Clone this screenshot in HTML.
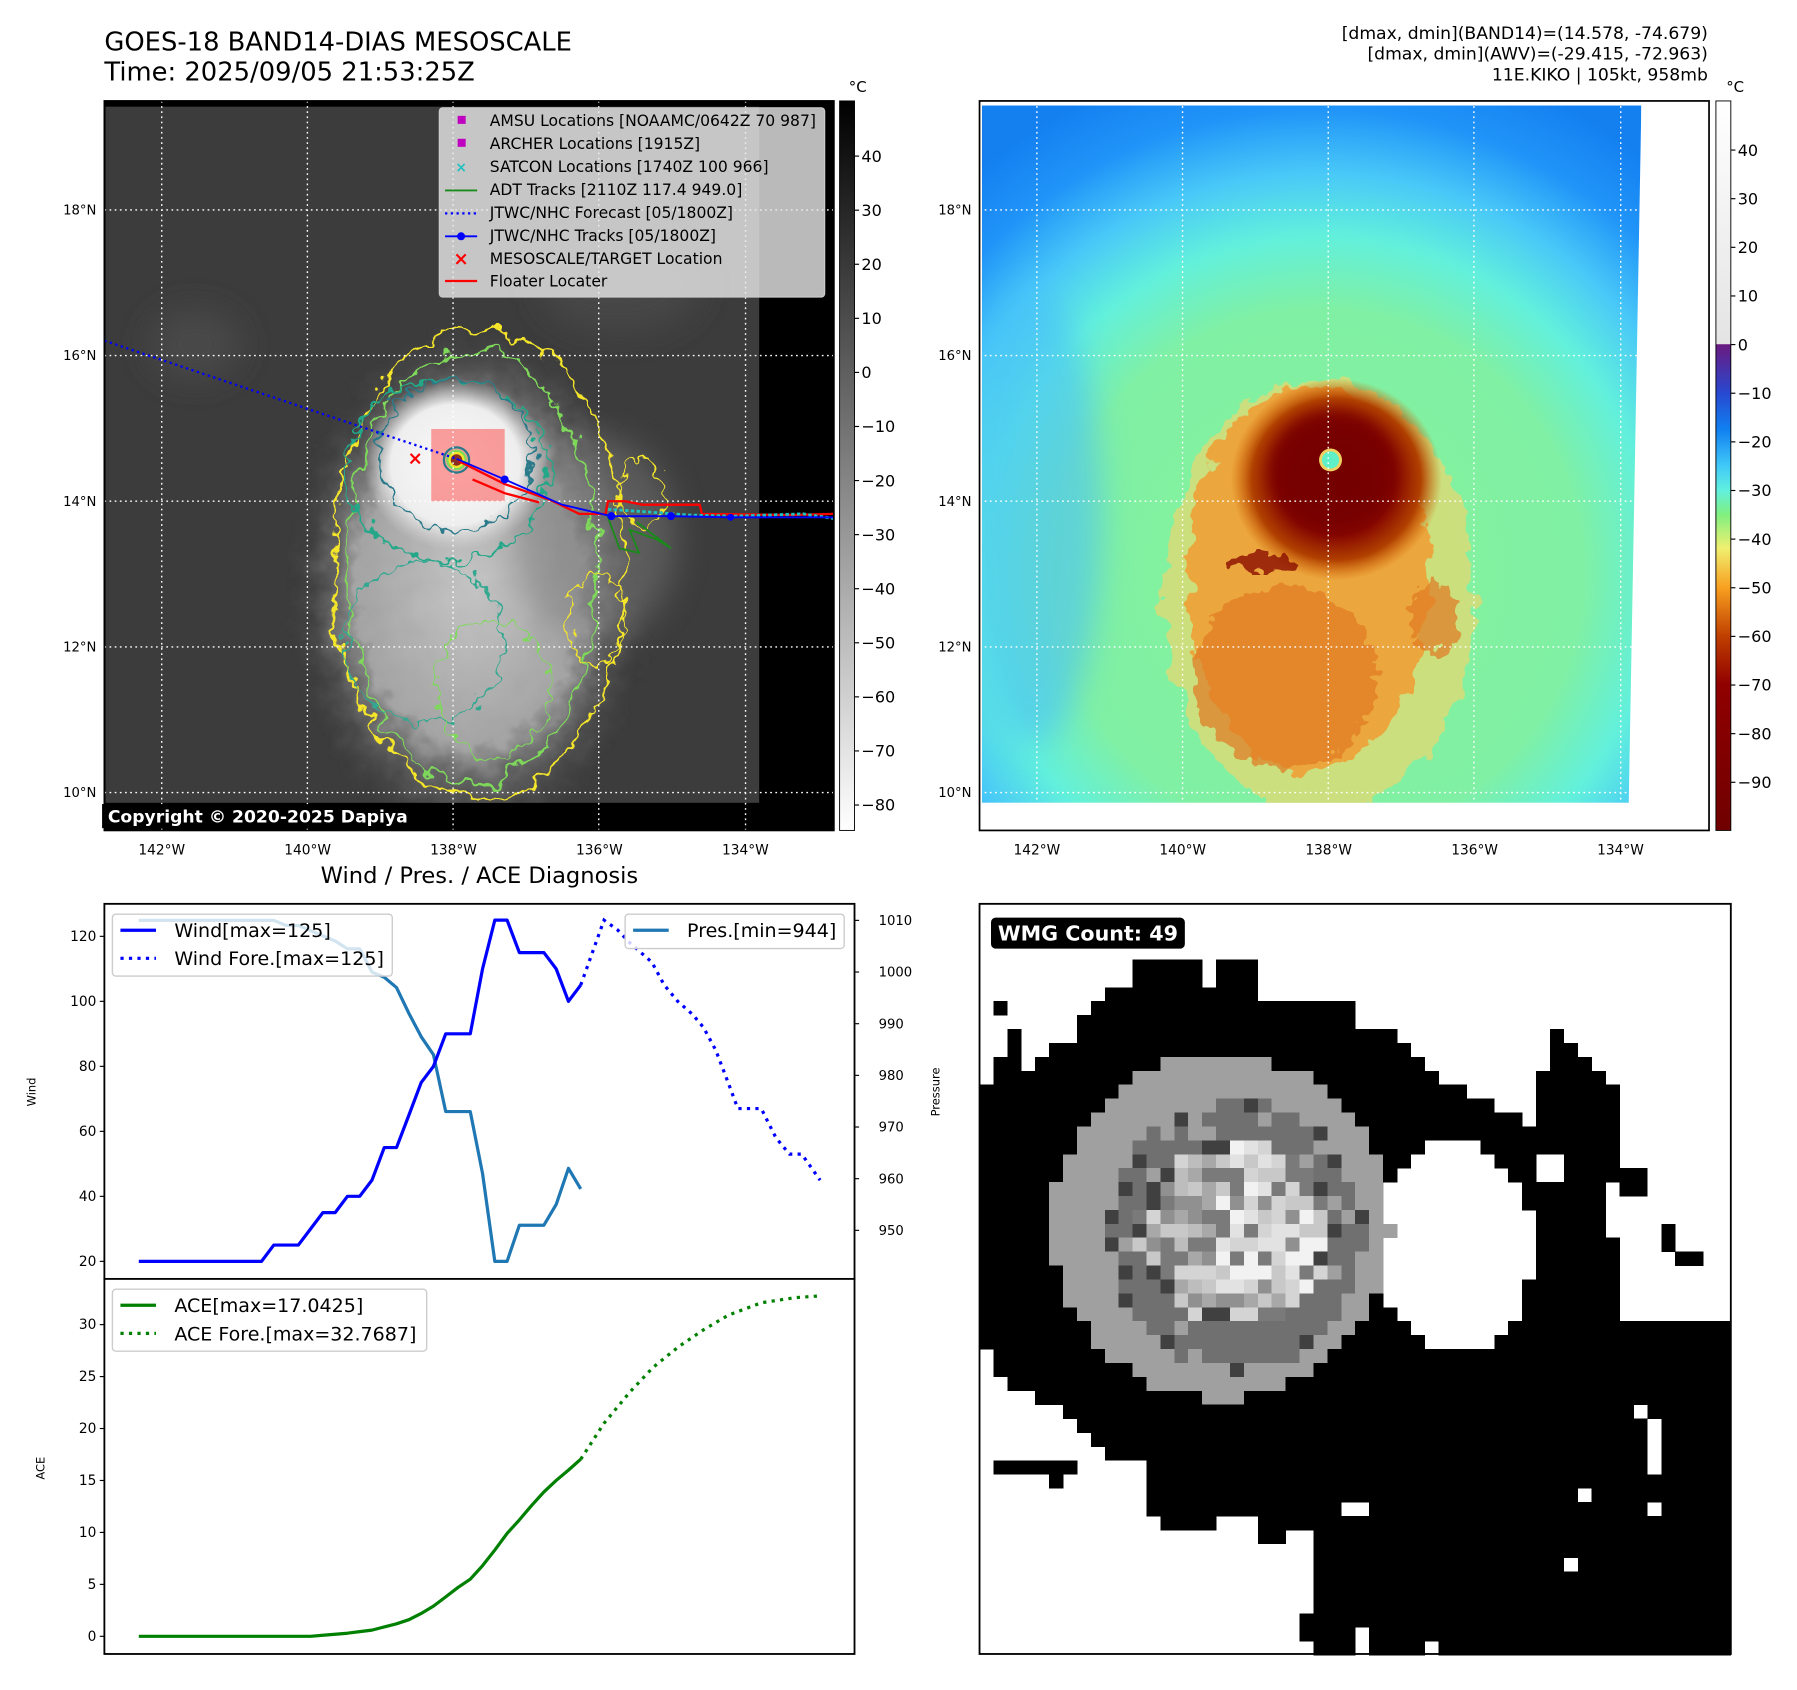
<!DOCTYPE html>
<html><head><meta charset="utf-8"><style>
html,body{margin:0;padding:0;background:#fff;}
svg{display:block;font-family:"DejaVu Sans","Liberation Sans",sans-serif;}
</style></head><body>
<svg id="root" width="1797" height="1690" viewBox="0 0 1566.7 1473.4" xmlns="http://www.w3.org/2000/svg">
<defs>
<filter id="rough" x="-20%" y="-20%" width="140%" height="140%"><feTurbulence type="fractalNoise" baseFrequency="0.05" numOctaves="3" seed="4"/><feDisplacementMap in="SourceGraphic" scale="26" xChannelSelector="R" yChannelSelector="G"/></filter>
<filter id="rough2" x="-20%" y="-20%" width="140%" height="140%"><feTurbulence type="fractalNoise" baseFrequency="0.09" numOctaves="2" seed="9"/><feDisplacementMap in="SourceGraphic" scale="22" xChannelSelector="R" yChannelSelector="G"/></filter>
<filter id="blur6" x="-50%" y="-50%" width="200%" height="200%"><feGaussianBlur stdDeviation="6"/></filter>
<filter id="blur14" x="-50%" y="-50%" width="200%" height="200%"><feGaussianBlur stdDeviation="14"/></filter>
<radialGradient id="shieldG" cx="0.5" cy="0.5" r="0.5"><stop offset="0" stop-color="#c4c4c4"/><stop offset="0.6" stop-color="#a4a4a4"/><stop offset="1" stop-color="#3c3c3c" stop-opacity="0"/></radialGradient>
<radialGradient id="cdoG" cx="0.5" cy="0.5" r="0.5"><stop offset="0" stop-color="#fafafa"/><stop offset="0.7" stop-color="#eeeeee"/><stop offset="1" stop-color="#d8d8d8" stop-opacity="0"/></radialGradient>
<radialGradient id="rbase" gradientUnits="userSpaceOnUse" cx="1150" cy="500" r="460"><stop offset="0" stop-color="#86f29a"/><stop offset="0.5" stop-color="#80f0a4"/><stop offset="0.64" stop-color="#62f0dc"/><stop offset="0.76" stop-color="#48c8f8"/><stop offset="0.88" stop-color="#2094f8"/><stop offset="1" stop-color="#1480f0"/></radialGradient>
<radialGradient id="coreG" cx="0.5" cy="0.5" r="0.5"><stop offset="0" stop-color="#6a0000"/><stop offset="0.55" stop-color="#860600"/><stop offset="0.8" stop-color="#b04000"/><stop offset="1" stop-color="#d06000" stop-opacity="0"/></radialGradient>
<linearGradient id="cb1" x1="0" y1="0" x2="0" y2="1"><stop offset="0" stop-color="#000"/><stop offset="1" stop-color="#fff"/></linearGradient>
<linearGradient id="cb2" x1="0" y1="0" x2="0" y2="1">
<stop offset="0" stop-color="#ffffff"/><stop offset="0.333" stop-color="#e4e4e4"/>
<stop offset="0.334" stop-color="#6a1a80"/><stop offset="0.4" stop-color="#2848d0"/><stop offset="0.45" stop-color="#1080f0"/><stop offset="0.5" stop-color="#40c8f8"/><stop offset="0.533" stop-color="#60f0e0"/><stop offset="0.567" stop-color="#80f080"/><stop offset="0.613" stop-color="#f0f070"/><stop offset="0.667" stop-color="#f8a020"/><stop offset="0.733" stop-color="#c04000"/><stop offset="0.8" stop-color="#900000"/><stop offset="1" stop-color="#700000"/></linearGradient>
<clipPath id="clipL"><rect x="91" y="88" width="636" height="636"/></clipPath>
<clipPath id="clipR"><polygon points="856,92 1431,92 1420,700 856,700"/></clipPath>
</defs>

<text x="91" y="44" font-size="22.5">GOES-18 BAND14-DIAS MESOSCALE</text>
<text x="91" y="70" font-size="22.5">Time: 2025/09/05 21:53:25Z</text>
<text x="1489" y="34" font-size="15" text-anchor="end">[dmax, dmin](BAND14)=(14.578, -74.679)</text>
<text x="1489" y="52" font-size="15" text-anchor="end">[dmax, dmin](AWV)=(-29.415, -72.963)</text>
<text x="1489" y="70" font-size="15" text-anchor="end">11E.KIKO | 105kt, 958mb</text>

<g>
<rect x="91" y="88" width="636" height="636" fill="#000"/>
<g clip-path="url(#clipL)">
<rect x="92" y="93" width="570" height="607" fill="#3c3c3c"/>
<ellipse cx="170" cy="300" rx="40" ry="30" fill="#4a4a4a" filter="url(#blur14)"/>
<ellipse cx="540" cy="250" rx="70" ry="40" fill="#474747" filter="url(#blur14)"/>
<ellipse cx="410" cy="510" rx="160" ry="230" fill="url(#shieldG)" filter="url(#rough)"/>
<ellipse cx="520" cy="470" rx="70" ry="90" fill="#7a7a7a" opacity="0.5" filter="url(#blur14)"/>
<ellipse cx="397" cy="405" rx="80" ry="75" fill="url(#cdoG)"/>
<ellipse cx="418" cy="492" rx="128" ry="205" fill="none" stroke="#f5e62a" stroke-width="2" filter="url(#rough)"/>
<ellipse cx="412" cy="495" rx="108" ry="190" fill="none" stroke="#7ed95a" stroke-width="2" filter="url(#rough)"/>
<ellipse cx="390" cy="410" rx="88" ry="80" fill="none" stroke="#22a888" stroke-width="2" filter="url(#rough2)"/>
<ellipse cx="397" cy="396" rx="67" ry="66" fill="none" stroke="#2a7a8a" stroke-width="2" filter="url(#rough2)"/>
<ellipse cx="370" cy="560" rx="70" ry="70" fill="none" stroke="#30a890" stroke-width="1.6" filter="url(#rough2)"/>
<ellipse cx="430" cy="600" rx="50" ry="60" fill="none" stroke="#7ed95a" stroke-width="1.6" filter="url(#rough2)"/>
<ellipse cx="520" cy="540" rx="25" ry="40" fill="none" stroke="#f5e62a" stroke-width="1.6" filter="url(#rough2)"/>
<ellipse cx="560" cy="430" rx="20" ry="30" fill="none" stroke="#f5e62a" stroke-width="1.6" filter="url(#rough2)"/>
<rect x="662" y="88" width="70" height="640" fill="#000"/>
<rect x="91" y="700" width="640" height="30" fill="#000"/>
<rect x="376" y="374" width="64" height="63" fill="#ff3030" opacity="0.45"/>
<circle cx="398" cy="401" r="11" fill="none" stroke="#2a7a8a" stroke-width="2"/>
<circle cx="398" cy="401" r="8" fill="#f5e62a" stroke="#7ed95a" stroke-width="2"/>
<circle cx="398" cy="401" r="5" fill="#8a3020"/>
</g>
<g stroke="#fff" stroke-width="1.2" stroke-dasharray="1.5 3" fill="none">
<line x1="141" y1="88" x2="141" y2="724"/><line x1="268" y1="88" x2="268" y2="724"/><line x1="395" y1="88" x2="395" y2="724"/><line x1="522" y1="88" x2="522" y2="724"/><line x1="650" y1="88" x2="650" y2="724"/>
<line x1="91" y1="183" x2="727" y2="183"/><line x1="91" y1="310" x2="727" y2="310"/><line x1="91" y1="437" x2="727" y2="437"/><line x1="91" y1="564" x2="727" y2="564"/><line x1="91" y1="691" x2="727" y2="691"/>
</g>
<g clip-path="url(#clipL)">
<polyline points="91,297 398,400" fill="none" stroke="#0000ff" stroke-width="2" stroke-dasharray="2 3"/>
<polyline points="529,448 540,478 557,482 549,462 572,470 585,478 555,455" fill="none" stroke="#1a8a1a" stroke-width="1.6"/>
<polyline points="400,402 440,422 480,436 505,448 528,448 530,437 545,437 560,440 610,440 612,448 690,449 727,448" fill="none" stroke="#ff0000" stroke-width="2"/>
<polyline points="412,418 440,430 470,438" fill="none" stroke="#ff0000" stroke-width="2"/>
<polyline points="530,444 560,446 600,449 640,450 700,448 727,452" fill="none" stroke="#20c0c0" stroke-width="2.5" stroke-dasharray="3 2"/>
<polyline points="398,400 440,418 490,440 533,450 585,450 637,451 727,451" fill="none" stroke="#0000ff" stroke-width="1.6"/>
<circle cx="440" cy="418" r="3.5" fill="#0000ff"/><circle cx="533" cy="450" r="3.5" fill="#0000ff"/><circle cx="585" cy="450" r="3.5" fill="#0000ff"/><circle cx="637" cy="451" r="3" fill="#0000ff"/>
<text x="362" y="405" font-size="16" fill="#ff0000" text-anchor="middle" font-weight="bold">×</text>
</g>
<rect x="89" y="701" width="273" height="21" fill="#000"/>
<text x="94" y="717" font-size="15" font-weight="bold" fill="#fff">Copyright © 2020-2025 Dapiya</text>
<rect x="91" y="88" width="636" height="636" fill="none" stroke="#000" stroke-width="1.5"/>
<g>
<rect x="383" y="94" width="336" height="165" rx="3" fill="#e8e8e8" fill-opacity="0.8" stroke="#ccc"/>
<rect x="399" y="101" width="7" height="7" fill="#c000c0"/>
<rect x="399" y="121" width="7" height="7" fill="#c000c0"/>
<text x="402" y="150" font-size="12" fill="#20c0c0" text-anchor="middle" font-weight="bold">×</text>
<line x1="388" y1="166" x2="416" y2="166" stroke="#1a8a1a" stroke-width="1.6"/>
<line x1="388" y1="186" x2="416" y2="186" stroke="#0000ff" stroke-width="2" stroke-dasharray="2 3"/>
<line x1="388" y1="206" x2="416" y2="206" stroke="#0000ff" stroke-width="1.6"/><circle cx="402" cy="206" r="3.5" fill="#0000ff"/>
<text x="402" y="231" font-size="16" fill="#ff0000" text-anchor="middle" font-weight="bold">×</text>
<line x1="388" y1="245" x2="416" y2="245" stroke="#ff0000" stroke-width="2"/>
<g font-size="13.6" fill="#000">
<text x="427" y="110">AMSU Locations [NOAAMC/0642Z 70 987]</text>
<text x="427" y="130">ARCHER Locations [1915Z]</text>
<text x="427" y="150">SATCON Locations [1740Z 100 966]</text>
<text x="427" y="170">ADT Tracks [2110Z 117.4 949.0]</text>
<text x="427" y="190">JTWC/NHC Forecast [05/1800Z]</text>
<text x="427" y="210">JTWC/NHC Tracks [05/1800Z]</text>
<text x="427" y="230">MESOSCALE/TARGET Location</text>
<text x="427" y="250">Floater Locater</text>
</g></g>
</g>
<g>
<rect x="732" y="88" width="13" height="636" fill="url(#cb1)" stroke="#000" stroke-width="0.8"/>
<text x="740" y="80" font-size="13">°C</text>
<g id="cb1ticks" font-size="14"></g>
</g>

<g>
<rect x="854" y="88" width="636" height="636" fill="#fff"/>
<g clip-path="url(#clipR)">
<rect x="856" y="92" width="575" height="608" fill="url(#rbase)"/>
<ellipse cx="900" cy="450" rx="60" ry="200" fill="#48c0f8" opacity="0.6" filter="url(#blur14)"/>
<ellipse cx="1150" cy="520" rx="135" ry="190" fill="#ecd870" opacity="0.7" filter="url(#rough)"/>
<ellipse cx="1140" cy="505" rx="105" ry="170" fill="#f0a038" opacity="0.9" filter="url(#rough)"/>
<ellipse cx="1120" cy="590" rx="80" ry="80" fill="#e07a20" opacity="0.7" filter="url(#rough2)"/>
<ellipse cx="1250" cy="540" rx="22" ry="30" fill="#e07a20" opacity="0.7" filter="url(#rough2)"/>
<ellipse cx="1165" cy="418" rx="92" ry="88" fill="url(#coreG)"/>
<ellipse cx="1162" cy="410" rx="55" ry="52" fill="#760000" opacity="0.8" filter="url(#blur6)"/>
<ellipse cx="1100" cy="490" rx="30" ry="8" fill="#8a1000" opacity="0.8" filter="url(#rough2)"/>
<circle cx="1160" cy="401" r="10" fill="#f0d060"/>
<circle cx="1160" cy="401" r="7.5" fill="#60f0c8"/>
</g>
<g stroke="#fff" stroke-width="1.2" stroke-dasharray="1.5 3" fill="none">
<line x1="904" y1="88" x2="904" y2="724"/><line x1="1031" y1="88" x2="1031" y2="724"/><line x1="1158" y1="88" x2="1158" y2="724"/><line x1="1285" y1="88" x2="1285" y2="724"/><line x1="1413" y1="88" x2="1413" y2="724"/>
<line x1="854" y1="183" x2="1490" y2="183"/><line x1="854" y1="310" x2="1490" y2="310"/><line x1="854" y1="437" x2="1490" y2="437"/><line x1="854" y1="564" x2="1490" y2="564"/><line x1="854" y1="691" x2="1490" y2="691"/>
</g>
<rect x="854" y="88" width="636" height="636" fill="none" stroke="#000" stroke-width="1.5"/>
</g>
<g>
<rect x="1496" y="88" width="13" height="636" fill="url(#cb2)" stroke="#000" stroke-width="0.8"/>
<text x="1505" y="80" font-size="13">°C</text>
<g id="cb2ticks" font-size="14"></g>
</g>
<g id="mapAxisLabels"></g>

<text x="418" y="770" font-size="19.7" text-anchor="middle">Wind / Pres. / ACE Diagnosis</text>
<g id="tsChart"></g>

<g id="wmg"></g>
</svg>
<script>
const obsIndex = [0,1,2,3,4,5,6,7,8,9,10,11,12,13,14,15,16,17,18,19,20,21,22,23,24,25,26,27,28,29,30,31,32,33,34,35,36];
const windObs = [20,20,20,20,20,20,20,20,20,20,20,25,25,25,30,35,35,40,40,45,55,55,65,75,80,90,90,90,110,125,125,115,115,115,110,100,105];
const presObs = [1010,1010,1010,1010,1010,1010,1010,1010,1010,1010,1010,1010,1009,1009,1008,1007,1006,1004.5,1004.5,1000,999,997,992,987.5,984,973,973,973,961,944,944,951,951,951,955,962,958];
const aceObs = [0,0,0,0,0,0,0,0,0,0,0,0,0,0,0,0.1,0.2,0.3,0.45,0.6,0.9,1.2,1.6,2.2,2.9,3.8,4.7,5.5,6.8,8.3,9.9,11.2,12.6,13.9,15.0,16.0,17.04];
const windForeIndex = [36,37.9,39,40,40.9,41.8,42.8,43.9,45.1,46,47,48,48.8,50.7,51.9,53,54,55.5];
const windFore = [105,125,122,118,115,112,105,100,96,92,85,75,67,67,58,53,53,45];
const aceForeIndex = [36,37.9,40,41.9,44,46,48,50.7,53.5,55.5];
const aceFore = [17.04,20.5,23.5,25.9,27.9,29.5,30.9,32.1,32.6,32.77];
const windTicks = [20,40,60,80,100,120];
const presTicks = [950,960,970,980,990,1000,1010];
const aceTicks = [0,5,10,15,20,25,30];
const cb1Ticks = [40,30,20,10,0,-10,-20,-30,-40,-50,-60,-70,-80];
const cb2Ticks = [40,30,20,10,0,-10,-20,-30,-40,-50,-60,-70,-80,-90];
const lonTicks = [-142,-140,-138,-136,-134];
const latTicks = [18,16,14,12,10];

const NS = "http://www.w3.org/2000/svg";
function mk(tag, attrs, parent){const e=document.createElementNS(NS,tag);for(const k in attrs)e.setAttribute(k,attrs[k]);if(parent)parent.appendChild(e);return e;}

const AX = {x0:91, x1:745, xmin:-2.8, xmax:58.3};
const TOP = {y0:788, y1:1115}, BOT = {y0:1115, y1:1442};
const WIND = {min:14.6, max:130}, PRES = {min:940.6, max:1013.2}, ACE = {min:-1.7, max:34.4};
function xs(i){return AX.x0 + (i-AX.xmin)/(AX.xmax-AX.xmin)*(AX.x1-AX.x0);}
function yWind(v){return TOP.y1 - (v-WIND.min)/(WIND.max-WIND.min)*(TOP.y1-TOP.y0);}
function yPres(v){return TOP.y1 - (v-PRES.min)/(PRES.max-PRES.min)*(TOP.y1-TOP.y0);}
function yAce(v){return BOT.y1 - (v-ACE.min)/(ACE.max-ACE.min)*(BOT.y1-BOT.y0);}
function pts(ix, vals, yf){return ix.map((i,k)=>xs(i).toFixed(1)+","+yf(vals[k]).toFixed(1)).join(" ");}

const ts = document.getElementById('tsChart');
const fTop = mk('rect',{x:AX.x0,y:TOP.y0,width:AX.x1-AX.x0,height:TOP.y1-TOP.y0,fill:'#fff',stroke:'#000','stroke-width':1.6},ts);


const fBot = mk('rect',{x:AX.x0,y:BOT.y0,width:AX.x1-AX.x0,height:BOT.y1-BOT.y0,fill:'#fff',stroke:'#000','stroke-width':1.6},ts);



windTicks.forEach(v=>{const y=yWind(v);
 mk('line',{x1:AX.x0-4,y1:y,x2:AX.x0,y2:y,stroke:'#000','stroke-width':1},ts);
 const t=mk('text',{x:AX.x0-7,y:y+4,'font-size':12,'text-anchor':'end'},ts);t.textContent=v;
 
 });
presTicks.forEach(v=>{const y=yPres(v);
 mk('line',{x1:AX.x1,y1:y,x2:AX.x1+4,y2:y,stroke:'#000','stroke-width':1},ts);
 const t=mk('text',{x:AX.x1+21,y:y+4,'font-size':11.5},ts);t.textContent=v;
 
 });
aceTicks.forEach(v=>{const y=yAce(v);
 mk('line',{x1:AX.x0-4,y1:y,x2:AX.x0,y2:y,stroke:'#000','stroke-width':1},ts);
 const t=mk('text',{x:AX.x0-7,y:y+4,'font-size':12,'text-anchor':'end'},ts);t.textContent=v;
 
 });
const yl1=mk('text',{x:0,y:0,'font-size':10,'text-anchor':'middle',transform:'translate(31,952) rotate(-90)'},ts);yl1.textContent='Wind';


const yl2=mk('text',{x:0,y:0,'font-size':10,'text-anchor':'middle',transform:'translate(819,952) rotate(-90)'},ts);yl2.textContent='Pressure';


const yl3=mk('text',{x:0,y:0,'font-size':10,'text-anchor':'middle',transform:'translate(39,1280) rotate(-90)'},ts);yl3.textContent='ACE';



const lPres=mk('polyline',{points:pts(obsIndex,presObs,yPres),fill:'none',stroke:'#1f77b4','stroke-width':2.8,'stroke-linejoin':'round'},ts);


const lWind=mk('polyline',{points:pts(obsIndex,windObs,yWind),fill:'none',stroke:'#0000ff','stroke-width':2.8,'stroke-linejoin':'round'},ts);


const lWindF=mk('polyline',{points:pts(windForeIndex,windFore,yWind),fill:'none',stroke:'#0000ff','stroke-width':2.8,'stroke-dasharray':'2.8 4.6'},ts);


const lAce=mk('polyline',{points:pts(obsIndex,aceObs,yAce),fill:'none',stroke:'#008000','stroke-width':2.8,'stroke-linejoin':'round'},ts);


const lAceF=mk('polyline',{points:pts(aceForeIndex,aceFore,yAce),fill:'none',stroke:'#008000','stroke-width':2.8,'stroke-dasharray':'2.8 4.6'},ts);



function legend(x,y,w,h,items,name){
 const g=mk('g',{},ts);
 
 
 mk('rect',{x:x,y:y,width:w,height:h,rx:3,fill:'#fff','fill-opacity':0.8,stroke:'#ccc','stroke-width':1.2},g);
 items.forEach((it,k)=>{const yy=y+14+k*24.5;
  const ln=mk('line',{x1:x+7,y1:yy,x2:x+38,y2:yy,stroke:it.c,'stroke-width':2.8},g);
  if(it.d) ln.setAttribute('stroke-dasharray','2.8 4.6');
  const t=mk('text',{x:x+54,y:yy+6,'font-size':16.6},g);t.textContent=it.t;});
}
legend(98,797,244,54,[{c:'#0000ff',t:'Wind[max=125]'},{c:'#0000ff',t:'Wind Fore.[max=125]',d:1}],'wind-legend');
legend(545,797,191,30,[{c:'#1f77b4',t:'Pres.[min=944]'}],'pressure-legend');
legend(98,1124,274,54,[{c:'#008000',t:'ACE[max=17.0425]'},{c:'#008000',t:'ACE Fore.[max=32.7687]',d:1}],'ace-legend');

const cb1g=document.getElementById('cb1ticks');
cb1Ticks.forEach(v=>{const y=724-(v+84.7)/(50.2+84.7)*636;
 mk('line',{x1:745,y1:y,x2:749,y2:y,stroke:'#000'},cb1g);
 const t=mk('text',{x:751,y:y+5},cb1g);t.textContent=(v<0?'\u2212'+(-v):v);
 
 });
const cb2g=document.getElementById('cb2ticks');
cb2Ticks.forEach(v=>{const y=724-(v+99.9)/(50.1+99.9)*636;
 mk('line',{x1:1509,y1:y,x2:1513,y2:y,stroke:'#000'},cb2g);
 const t=mk('text',{x:1515,y:y+5},cb2g);t.textContent=(v<0?'\u2212'+(-v):v);
 
 });

const mg=document.getElementById('mapAxisLabels');
function lonX(lon){return 141+(lon+142)/2*127.2;}
function latY(lat){return 183+(18-lat)/2*127;}
[0,763].forEach(off=>{
 lonTicks.forEach(l=>{const t=mk('text',{x:lonX(l)+off,y:745,'text-anchor':'middle','font-size':12},mg);t.textContent=(-l)+'°W';
  
  });
 latTicks.forEach(l=>{const t=mk('text',{x:84+off,y:latY(l)+4,'text-anchor':'end','font-size':11.5},mg);t.textContent=l+'°N';
  
  });
});

// ===== WMG panel =====
const wg=document.getElementById('wmg');
mk('rect',{x:854,y:788,width:655,height:654,fill:'#fff'},wg);
function step(xa,ya,x){let v=ya[0];for(let i=0;i<xa.length;i++){if(x>=xa[i])v=ya[i];}return v;}
function lin(xa,ya,x){if(x<=xa[0])return ya[0];for(let i=1;i<xa.length;i++){if(x<=xa[i]){const f=(x-xa[i-1])/(xa[i]-xa[i-1]);return ya[i-1]+f*(ya[i]-ya[i-1]);}}return ya[ya.length-1];}
const topX=[0,30,60,90,120,150,210,240,270,330,385,470,500,590,795,855,885,940,970,1000,1060,1120,1145,1175,1205,1235,1265,1295,1325];
const topY=[370,310,250,340,310,285,220,195,160,130,103,160,130,195,250,285,315,345,375,405,435,465,345,255,285,315,345,375,880];
const wedgeX=[0,40,70,125,185,215,245,272];
const wedgeY=[910,970,1000,1030,1060,1090,1120,1147];
const lowX=[0,40,155,185,215,360,390,480,570,625,685];
const lowY=[1145,1175,1205,1175,1150,1265,1295,1265,1325,1295,9999];
function inBox(x,y,a,b,c,d){return x>=a&&x<c&&y>=b&&y<d;}
function hsh(i,j){let h=(i*374761393+j*668265263)^0x5bd1e995;h=Math.imul(h^(h>>>13),1274126177);return ((h^(h>>>16))>>>0)/4294967296;}
const N=54, cs=655/N;
let rects='';
for(let i=0;i<N;i++){for(let j=0;j<N;j++){
 const px=854+i*cs+cs/2, py=788+j*cs+cs/2;
 const zx=(px-854)/0.4186, zy=(py-788)/0.4186;
 const h=hsh(i,j);
 const rO=Math.hypot((zx-503)/352,(zy-672)/360);
 const rD=Math.hypot((zx-535)/265,(zy-688)/283);
 const rI=Math.hypot((zx-535)/205,(zy-685)/195);
 let c=null;
 if(rI<1){
   const bright = (zx>500 && zy<800) ? 0.25 : 0;
   const p=['#bdbdbd','#a8a8a8','#c8c8c8','#909090','#d4d4d4','#7a7a7a','#e2e2e2','#f2f2f2'];
   let k=Math.floor(h*6 + bright*8); if(k>7)k=7; c=p[k];
   if(rI>0.88 && h<0.35) c='#404040';
 } else if(rD<1){ c = (rD>0.9 && h<0.3)?'#404040':(h<0.85?'#707070':'#a0a0a0'); }
 else if(rO<1){ c='#a0a0a0'; }
 else {
  let white=false;
  if(zy<step(topX,topY,zx)) white=true;
  if(zx>825 && ((zx-990)/165)**2+((zy-715)/220)**2<1) white=true;
  if(zy>lin(wedgeX,wedgeY,zx) && zy<1147 && zx<272) white=true;
  if(zy>step(lowX,lowY,zx)) white=true;
  if(inBox(zx,zy,1150,520,1205,580)||inBox(zx,zy,1295,580,1325,700)) white=true;
  if(inBox(zx,zy,1355,1030,1385,1085)||inBox(zx,zy,1385,1085,1410,1175)) white=true;
  if(inBox(zx,zy,740,1240,800,1268)) white=true;
  if(inBox(zx,zy,1240,1207,1268,1237)||inBox(zx,zy,1385,1240,1412,1265)||inBox(zx,zy,1210,1357,1238,1385)||inBox(zx,zy,770,1505,800,1566)||inBox(zx,zy,918,1535,945,1566)) white=true;
  if(inBox(zx,zy,1325,550,1385,610)||inBox(zx,zy,1410,670,1440,730)||inBox(zx,zy,1440,730,1500,760)||inBox(zx,zy,35,195,60,220)||inBox(zx,zy,655,1475,685,1535)) white=false;
  c=white?null:'#000';
 }
 if(c) rects+='<rect x="'+(854+i*cs).toFixed(2)+'" y="'+(788+j*cs).toFixed(2)+'" width="'+(cs+0.3).toFixed(2)+'" height="'+(cs+0.3).toFixed(2)+'" fill="'+c+'"/>';
}}
const cellG=mk('g',{'shape-rendering':'crispEdges'},wg);


cellG.innerHTML=rects;
mk('rect',{x:854,y:788,width:655,height:654,fill:'none',stroke:'#000','stroke-width':1.6},wg);
const wb=mk('rect',{x:864,y:800,width:169,height:27,rx:4,fill:'#000'},wg);


const wt=mk('text',{x:870,y:820,'font-size':18,'font-weight':'bold',fill:'#fff'},wg);wt.textContent='WMG Count: 49';


</script>
</body></html>
